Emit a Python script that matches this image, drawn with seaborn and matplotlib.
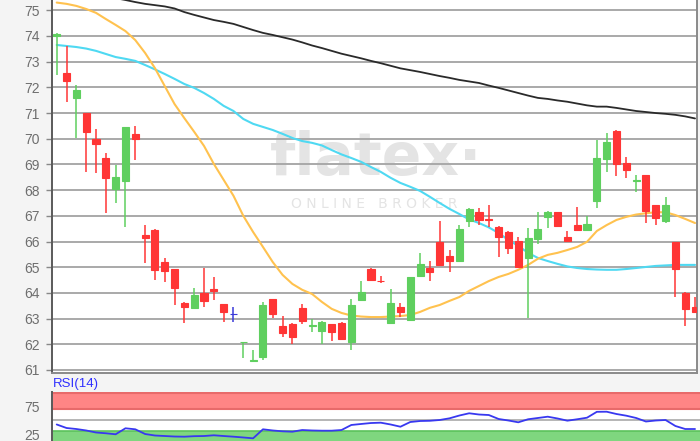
import numpy as np
import pandas as pd
import matplotlib
matplotlib.use("Agg")
import matplotlib.pyplot as plt
import seaborn as sns

# ---------------- data ----------------
opens = [74.00, 72.55, 71.60, 71.02, 70.00, 69.26, 68.03, 68.36, 70.20, 66.27,
         66.43, 65.20, 64.92, 63.60, 63.43, 64.00, 64.15, 63.57, 63.16, 62.08,
         61.35, 61.50, 63.76, 62.73, 62.79, 63.40, 62.73, 62.52, 62.78, 62.84,
         62.10, 63.73, 64.92, 64.48, 62.82, 63.44, 62.95, 64.67, 64.98, 66.00,
         65.44, 65.25, 66.80, 67.13, 66.86, 66.56, 66.36, 66.03, 65.35, 66.09,
         66.97, 67.13, 66.19, 66.65, 66.45, 67.58, 69.21, 70.32, 69.05, 68.35,
         68.59, 67.42, 66.81, 65.97, 64.01, 63.44]
highs = [74.10, 73.61, 72.09, 71.02, 70.37, 69.46, 68.98, 70.47, 70.51, 66.65,
         66.48, 65.37, 64.92, 63.66, 64.20, 64.96, 64.60, 63.57, 63.44, 62.10,
         61.78, 63.66, 63.78, 63.10, 62.84, 63.56, 62.98, 62.90, 62.80, 62.86,
         63.77, 64.47, 64.98, 64.66, 64.14, 63.60, 64.63, 65.57, 65.26, 66.80,
         65.67, 66.65, 67.32, 67.30, 67.42, 66.60, 66.40, 66.17, 66.52, 67.13,
         67.17, 67.15, 66.42, 67.33, 67.00, 69.95, 70.21, 70.34, 69.30, 68.59,
         68.60, 67.44, 67.72, 66.00, 64.02, 63.83]
lows = [72.48, 71.44, 70.02, 68.72, 68.66, 67.10, 67.51, 66.58, 69.18, 65.16,
        64.50, 64.44, 63.53, 62.82, 63.37, 63.44, 63.73, 62.88, 62.86, 61.46,
        61.33, 61.39, 63.02, 62.30, 62.02, 62.79, 62.47, 62.02, 62.14, 62.18,
        61.76, 63.68, 64.48, 64.40, 62.80, 63.05, 62.92, 64.65, 64.48, 65.07,
        64.83, 65.23, 66.56, 66.65, 66.58, 65.39, 65.52, 65.00, 63.01, 65.91,
        66.52, 66.60, 66.00, 66.43, 66.43, 67.32, 68.72, 68.56, 68.46, 67.94,
        66.71, 66.65, 66.71, 63.86, 62.72, 63.25]
closes = [74.08, 72.25, 71.88, 70.28, 69.80, 68.46, 68.50, 70.47, 70.00, 66.15,
          64.90, 64.86, 64.18, 63.44, 63.90, 63.69, 64.07, 63.27, 63.16, 62.10,
          61.37, 63.53, 63.17, 62.45, 62.30, 62.92, 62.76, 62.88, 62.47, 62.20,
          63.53, 64.03, 64.50, 64.45, 63.60, 63.27, 64.61, 65.12, 64.83, 65.09,
          65.25, 66.48, 67.26, 66.84, 66.83, 66.19, 65.74, 65.00, 66.13, 66.48,
          67.13, 66.61, 66.02, 66.45, 66.67, 69.24, 69.86, 69.02, 68.79, 68.38,
          67.20, 66.91, 67.42, 64.93, 63.37, 63.27]

ma_black = [75.87, 75.79, 75.73, 75.67, 75.60, 75.54, 75.47, 75.40, 75.32, 75.25,
            75.20, 75.15, 75.07, 74.93, 74.82, 74.72, 74.62, 74.55, 74.47, 74.35,
            74.23, 74.12, 74.04, 73.95, 73.86, 73.75, 73.63, 73.53, 73.42, 73.31,
            73.22, 73.13, 73.03, 72.94, 72.84, 72.74, 72.67, 72.60, 72.52, 72.44,
            72.37, 72.29, 72.23, 72.17, 72.07, 71.98, 71.88, 71.78, 71.68, 71.59,
            71.55, 71.49, 71.44, 71.37, 71.30, 71.25, 71.25, 71.20, 71.14, 71.08,
            71.04, 71.00, 70.97, 70.93, 70.87, 70.79]
ma_cyan = [73.65, 73.61, 73.57, 73.51, 73.42, 73.30, 73.18, 73.11, 73.03, 72.87,
           72.70, 72.52, 72.33, 72.13, 71.98, 71.78, 71.55, 71.28, 71.08, 70.77,
           70.58, 70.46, 70.34, 70.19, 70.03, 69.91, 69.84, 69.74, 69.56, 69.39,
           69.25, 69.10, 68.90, 68.71, 68.48, 68.28, 68.13, 67.97, 67.74, 67.50,
           67.27, 67.07, 66.86, 66.72, 66.55, 66.33, 66.06, 65.83, 65.56, 65.36,
           65.24, 65.13, 65.03, 64.97, 64.93, 64.91, 64.90, 64.90, 64.93, 64.97,
           65.01, 65.05, 65.07, 65.09, 65.09, 65.09]
ma_orange = [75.30, 75.25, 75.17, 75.05, 74.90, 74.66, 74.43, 74.19, 73.84, 73.34,
             72.75, 72.05, 71.35, 70.80, 70.27, 69.72, 69.02, 68.40, 67.78, 67.00,
             66.37, 65.79, 65.20, 64.70, 64.35, 64.12, 63.96, 63.65, 63.38, 63.22,
             63.12, 63.08, 63.06, 63.06, 63.08, 63.10, 63.14, 63.26, 63.42, 63.53,
             63.69, 63.84, 64.08, 64.27, 64.46, 64.62, 64.74, 64.90, 65.09, 65.33,
             65.48, 65.56, 65.67, 65.79, 65.99, 66.41, 66.64, 66.84, 66.96, 67.05,
             67.10, 67.14, 67.14, 67.03, 66.88, 66.72]
rsi = [42.0, 35.7, 33.9, 31.3, 27.7, 26.3, 24.5, 35.2, 33.4, 25.0,
       22.3, 21.4, 20.5, 20.2, 21.1, 21.4, 22.7, 21.4, 20.2, 18.8,
       17.3, 33.4, 31.3, 29.8, 29.1, 32.1, 31.3, 30.9, 30.9, 32.1,
       41.1, 42.9, 44.6, 45.2, 42.0, 38.0, 46.4, 48.2, 48.6, 50.0,
       53.0, 58.0, 62.0, 59.8, 58.9, 51.8, 49.1, 45.9, 51.3, 53.6,
       55.9, 52.7, 48.8, 51.3, 54.1, 64.6, 64.8, 60.7, 57.7, 53.6,
       47.3, 49.1, 50.0, 39.3, 33.9, 33.9]

price_ticks = list(range(61, 76))
rsi_ticks = [25, 75]
rsi_bands = [30, 70]
rsi_label = "RSI(14)"
watermark = "flatex·"
watermark_sub = "O N L I N E   B R O K E R"

# ---------------- style ----------------
sns.set_style("white")
plt.rcParams['font.family'] = ['Liberation Sans', 'DejaVu Sans']

W, H = 700, 441
fig = plt.figure(figsize=(W / 100, H / 100), dpi=100, facecolor='#f4f4f4')

def rect(l, t, r, b):
    return [l / W, (H - b) / H, (r - l) / W, (b - t) / H]

ax = fig.add_axes(rect(52, 0, 697, 373))
ax.set_facecolor('white')

idx = np.arange(len(opens))
o = np.array(opens); c = np.array(closes)
hi = np.array(highs); lo = np.array(lows)

GREEN = '#5fcf5f'
RED = '#ff3535'
BLUE = '#3a3ad8'
cols = [GREEN if cc > oo else (RED if cc < oo else BLUE) for oo, cc in zip(o, c)]

# watermark
ax.text(0.502, 0.575, watermark, transform=ax.transAxes, ha='center', va='center',
        fontsize=42, fontweight='bold', color='#e4e4e4', family='DejaVu Sans', zorder=0)
ax.text(0.50, 0.452, watermark_sub, transform=ax.transAxes, ha='center', va='center',
        fontsize=10, color='#e4e4e4', family='DejaVu Sans', zorder=0)

# moving averages
ma_df = pd.DataFrame({'i': idx, 'black': ma_black, 'cyan': ma_cyan, 'orange': ma_orange})
sns.lineplot(data=ma_df, x='i', y='black', ax=ax, color='#2a2a2a', lw=1.3, zorder=3)
sns.lineplot(data=ma_df, x='i', y='cyan', ax=ax, color='#4fd9f2', lw=1.5, zorder=3)
sns.lineplot(data=ma_df, x='i', y='orange', ax=ax, color='#ffc24f', lw=1.5, zorder=3)

# candles
ax.vlines(idx, lo, hi, colors=cols, lw=1.1, zorder=4)
ax.bar(idx, np.abs(c - o), bottom=np.minimum(o, c), width=0.72, color=cols,
       edgecolor=cols, linewidth=0.8, zorder=5)

ax.set_xlim(-0.48, 65.2)
ax.set_ylim(60.883, 75.40)
ax.set_yticks(price_ticks)
ax.set_yticklabels([str(t) for t in price_ticks])
ax.set_xticks([])
ax.set_xlabel('')
ax.set_ylabel('')
ax.grid(axis='y', color='#a9a9a9', lw=1.4, zorder=1)
ax.set_axisbelow(True)
ax.tick_params(axis='y', length=4, width=1, color='#888888', labelsize=10,
               labelcolor='#6e6e6e', pad=5, left=True)
ax.spines['top'].set_visible(False)
ax.spines['left'].set_color('#5a5a5a'); ax.spines['left'].set_linewidth(1.4)
ax.spines['bottom'].set_color('#8a8a8a'); ax.spines['bottom'].set_linewidth(1.4)
ax.spines['right'].set_color('#8a8a8a'); ax.spines['right'].set_linewidth(1.4)

# RSI panel
ax2 = fig.add_axes(rect(52, 392, 700, 448))
ax2.set_facecolor('white')
ax2.set_xlim(-0.48, 65.2 + 3 / 9.82)
ax2.set_ylim(0, 100)
ax2.axhspan(rsi_bands[1], 100, color='#ff8585', lw=0, zorder=1)
ax2.axhline(rsi_bands[1], color='#e86a6a', lw=1.5, zorder=2)
ax2.axhline(99, color='#e86a6a', lw=1.5, zorder=2)
ax2.axhspan(0, rsi_bands[0], color='#7fd67f', lw=0, zorder=1)
ax2.axhline(rsi_bands[0], color='#5cc25c', lw=1.2, zorder=2)
ax2.axhline(50, color='#b0b0b0', lw=1.3, zorder=2)
rsi_df = pd.DataFrame({'i': idx, 'rsi': rsi})
sns.lineplot(data=rsi_df, x='i', y='rsi', ax=ax2, color='#3838f0', lw=1.3, zorder=4)
ax2.set_yticks(rsi_ticks)
ax2.set_yticklabels([str(t) for t in rsi_ticks])
ax2.set_xticks([])
ax2.set_xlabel(''); ax2.set_ylabel('')
ax2.tick_params(axis='y', length=0, labelsize=10, labelcolor='#6e6e6e', pad=9)
for s in ['top', 'right', 'bottom']:
    ax2.spines[s].set_visible(False)
ax2.spines['left'].set_color('#5a5a5a'); ax2.spines['left'].set_linewidth(1.4)

fig.text(53 / W, (H - 384) / H, rsi_label, ha='left', va='center', fontsize=9.5,
         color='#3030ff')

fig.savefig('out.png', dpi=100, facecolor=fig.get_facecolor())
